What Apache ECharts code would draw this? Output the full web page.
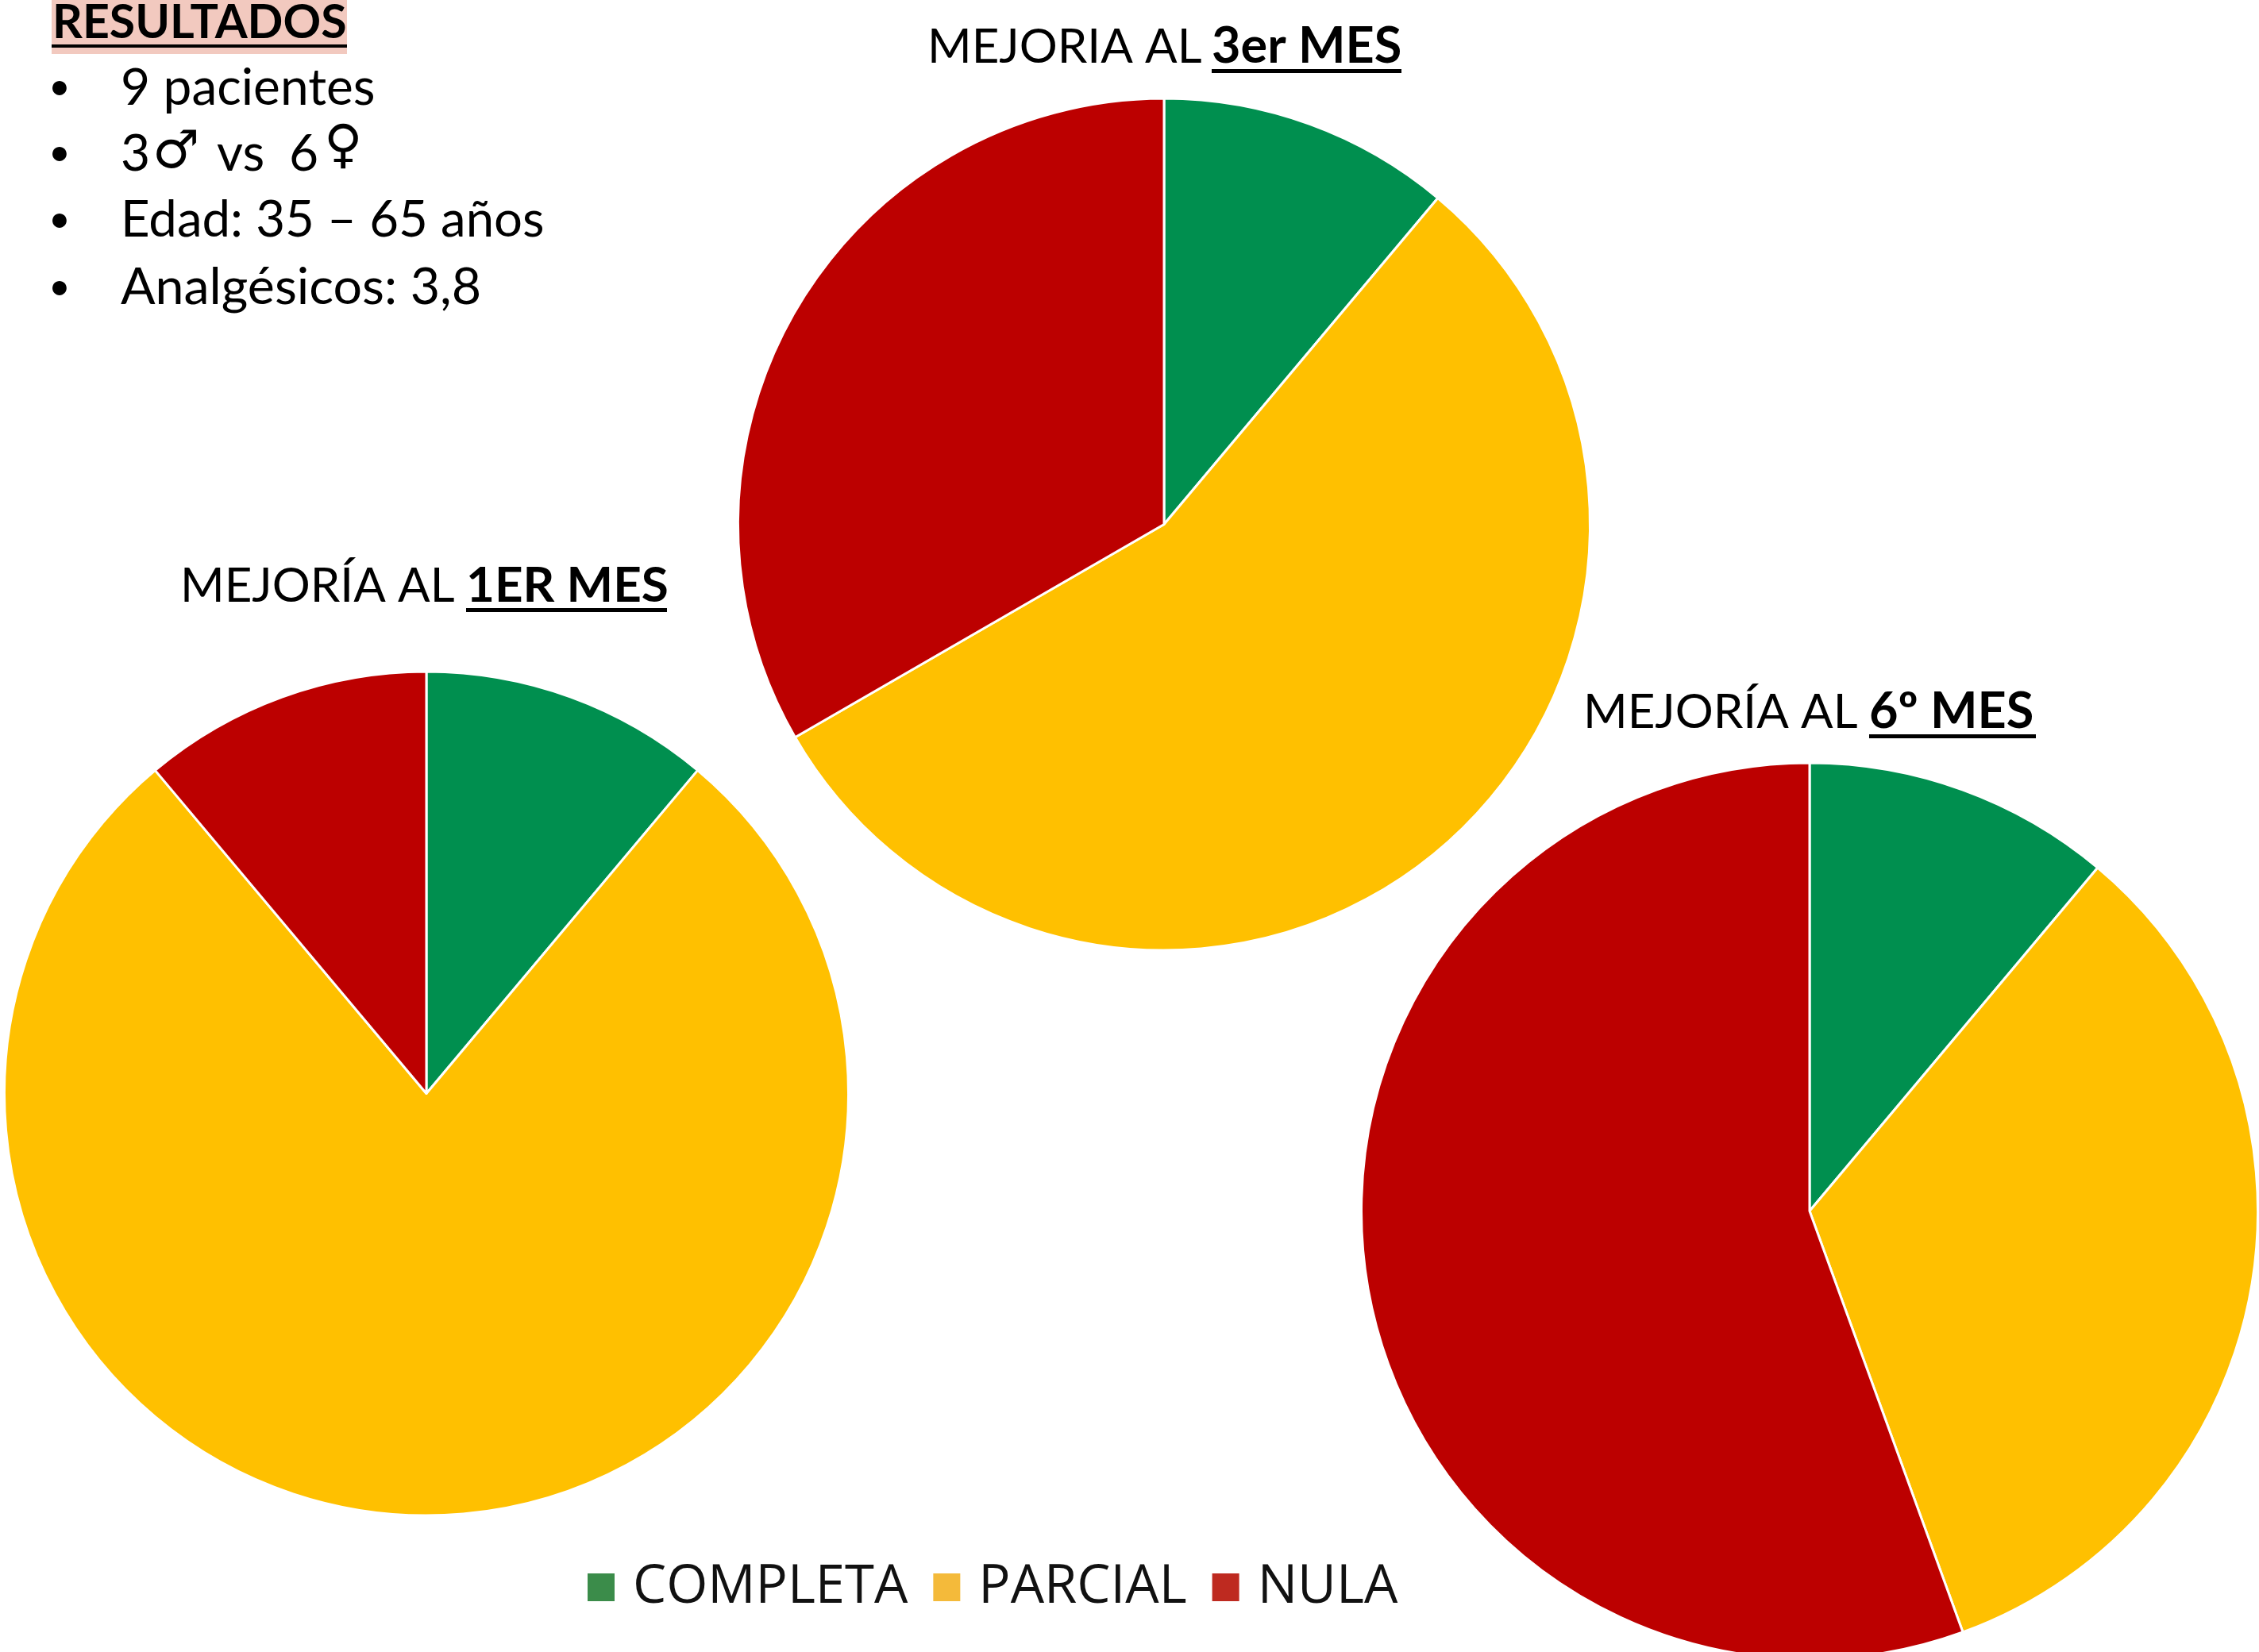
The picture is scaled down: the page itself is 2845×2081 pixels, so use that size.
<!DOCTYPE html>
<html lang="es">
<head>
    <meta charset="UTF-8">
    <title>Resultados | ECharts</title>
    <style>html, body { margin: 0; padding: 0; background: #fff; }</style>
    <script src="https://cdn.jsdelivr.net/npm/echarts@6/dist/echarts.min.js"></script>
</head>
<body>
<div id="main" style="width: 2845px; height: 2081px"></div>

<script type="text/javascript">
    // datos: pacientes por categoria (9 en total)
    var categories = ['COMPLETA', 'PARCIAL', 'NULA'];
    var mes1 = [1, 7, 1];
    var mes3 = [1, 5, 3];
    var mes6 = [1, 3, 5];

    var pieColors = ['#008f4f', '#ffc000', '#bc0000'];
    var legendColors = ['#3b8c4a', '#f4ba3a', '#be2a20'];

    var heading = 'RESULTADOS';
    var notes = ['9 pacientes', 'Edad: 35 – 65 años', 'Analgésicos: 3,8'];

    var font = 'Lato';

    function pie(name, values, center, radius) {
        return {
            name: name,
            type: 'pie',
            center: center,
            radius: radius,
            startAngle: 90,
            clockwise: true,
            silent: true,
            animation: false,
            label: {show: false},
            labelLine: {show: false},
            itemStyle: {borderColor: '#fff', borderWidth: 3},
            data: categories.map(function (c, i) {
                return {name: c, value: values[i], itemStyle: {color: pieColors[i]}};
            })
        };
    }

    // base = linea base del texto (la caja se apoya abajo, de ahi el ajuste)
    function text(str, x, base, size, weight, family) {
        return {
            type: 'text',
            x: x,
            y: base + size * 0.18,
            silent: true,
            style: {
                text: str,
                fill: '#000',
                font: (weight || 'normal') + ' ' + size + 'px "' + (family || font) + '"',
                textAlign: 'left',
                verticalAlign: 'bottom',
                lineHeight: size
            }
        };
    }

    function rule(x, y, w, h, color) {
        return {
            type: 'rect',
            silent: true,
            shape: {x: x, y: y, width: w, height: h},
            style: {fill: color || '#000'}
        };
    }

    // titulo de cada tarta: parte normal + parte en negrita subrayada
    function pieTitle(plain, bold, x, boldX, endX, base, boldSize) {
        return [
            text(plain, x, base, 60),
            text(bold, boldX, base, boldSize, 'bold'),
            rule(boldX, base + 8, endX - boldX, 5)
        ];
    }

    var graphics = [
        rule(65, 0, 372, 68, '#f2c9bf'),
        rule(65, 56, 372, 4),
        text(heading, 66, 48, 59, 'bold'),
        text('•', 61, 125, 48),
        text(notes[0], 152, 132, 64),
        text('•', 61, 208, 48),
        text('3', 152, 215, 64),
        text('♂', 192, 215, 66, 'normal', 'DejaVu Sans'),
        text('vs', 273, 215, 64),
        text('6', 364, 215, 64),
        text('♀', 408, 208, 66, 'normal', 'DejaVu Sans'),
        text('•', 61, 292, 48),
        text(notes[1], 152, 298, 63.5),
        text('•', 61, 377, 48),
        text(notes[2], 152, 383, 64.5)
    ].concat(
        pieTitle('MEJORÍA AL', '1ER MES', 227, 587, 840, 758, 62),
        pieTitle('MEJORIA AL', '3er MES', 1168, 1526, 1765, 79, 63),
        pieTitle('MEJORÍA AL', '6º MES', 1994, 2354, 2564, 917, 63)
    );

    var myChart = echarts.init(document.getElementById('main'));

    var option = {
        backgroundColor: '#fff',
        animation: false,
        legend: {
            left: 738,
            top: 1966,
            padding: 0,
            itemWidth: 36,
            itemHeight: 37,
            itemGap: 30,
            selectedMode: false,
            icon: 'rect',
            textStyle: {
                fontFamily: 'Open Sans',
                fontSize: 67,
                fontWeight: 500,
                color: '#111',
                padding: [0, 0, 20, 17]
            },
            data: categories.map(function (c, i) {
                return {name: c, itemStyle: {color: legendColors[i]}};
            })
        },
        series: [
            pie('1er mes', mes1, [537, 1377.5], 531.5),
            pie('3er mes', mes3, [1466, 660.5], 536.5),
            pie('6º mes', mes6, [2279, 1525.5], 564.5)
        ],
        graphic: {elements: graphics}
    };

    myChart.setOption(option);
</script>
</body>
</html>
